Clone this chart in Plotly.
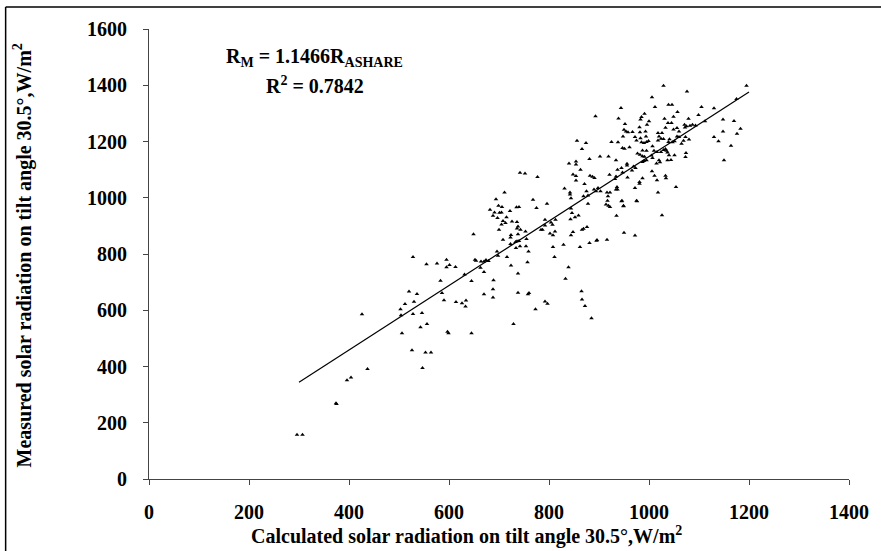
import plotly.graph_objects as go

# Calculated (ASHRAE) vs measured solar radiation, W/m^2
calc = [296, 307, 374, 375, 396, 404, 437, 506, 526, 553, 564, 547, 597, 599, 645,
        528, 555, 576, 595, 601, 595, 613, 652, 631, 583, 645, 520, 536, 586, 512, 530,
        590, 614, 626, 634, 633, 503, 546, 528, 504, 426, 556, 543,
        724, 723, 738, 753, 700, 743, 784, 787, 812, 802, 808, 844, 848, 866,
        708, 736, 733, 740, 755, 723, 734, 742, 754, 759, 696, 698, 716,
        654, 664, 670, 674, 679, 663, 724, 757, 670, 738, 689, 688, 670, 688, 738,
        758, 760, 792, 797, 773, 729, 808, 811, 829, 862, 839, 833, 881, 895, 896,
        916, 950, 972, 865, 866, 872, 885,
        945, 976, 949, 935, 1026,
        856, 874, 925, 866, 902, 919, 881, 840, 854, 854, 863, 742, 752, 777, 848, 854,
        882, 887, 891, 921, 854, 871, 831, 898, 890, 894, 903, 875, 842, 842, 916, 922,
        711, 869, 878, 844, 918, 917, 914, 919, 922, 878, 694, 699, 706, 682, 691, 688,
        697, 701, 705, 722, 735, 740, 768, 775, 796, 715, 708, 713, 705, 726, 736, 738,
        736, 649, 792, 792, 804, 807, 813, 844, 846, 852, 843, 859, 869, 876, 893,
        1029, 1076, 1195, 1006, 1039, 1046, 1012, 944, 1105, 1130, 1175, 991, 985, 983,
        1057, 1099, 939, 1031, 1049, 1079, 1000, 996, 952, 1038, 1045, 1071, 1075, 1082,
        1087, 1072, 1148, 1170, 1093, 1112, 981, 1033, 1049, 950, 954, 958, 967, 982, 993,
        1018, 1026, 1056, 1060, 1183, 1148, 1176, 1130, 1139, 1164, 1150, 938, 947, 951,
        961, 948, 972, 983, 975, 994, 985, 990, 995, 999, 1007, 1010, 1018, 1020, 1024,
        1029, 1039, 1041, 1047, 1051, 1056, 1060, 1065, 1069, 1073, 1080, 977, 982, 987,
        991, 987, 995, 1005, 1016, 1024, 1029, 1033, 1035, 1037, 1040, 1051, 1044, 1037,
        1020, 1022, 1015, 1007, 995, 987, 990, 1074, 1073, 934, 937, 945, 947, 956, 956,
        966, 969, 973, 957, 934, 932, 987, 981, 981, 972, 1006, 1011, 1016, 1033, 1034,
        1054, 1018, 936, 937, 934, 946, 975, 949]
meas = [157, 157, 269, 267, 351, 361, 391, 518, 458, 450, 450, 395, 524, 518, 518,
        789, 764, 766, 780, 761, 753, 754, 780, 727, 705, 704, 667, 658, 661, 622, 630,
        636, 629, 625, 635, 613, 604, 590, 587, 582, 586, 551, 540,
        868, 859, 870, 880, 886, 886, 886, 886, 880, 873, 867, 867, 878, 886,
        851, 845, 843, 846, 853, 836, 821, 828, 828, 809, 809, 794, 789,
        776, 773, 773, 779, 775, 751, 759, 771, 736, 731, 707, 675, 657, 645, 662,
        657, 661, 631, 623, 604, 551, 825, 789, 833, 825, 753, 712, 839, 847, 850,
        851, 876, 866, 668, 638, 615, 572,
        988, 988, 970, 936, 938,
        1203, 1195, 1198, 1173, 1147, 1147, 1138, 1122, 1129, 1118, 1100, 1089, 1086, 1074, 1083, 1077,
        1078, 1075, 1070, 1082, 1061, 1049, 1033, 1035, 1029, 1023, 1023, 1023, 1019, 1012, 1019, 1019,
        1019, 1005, 1008, 998, 1005, 989, 976, 972, 967, 979, 995, 972, 967, 957, 948, 936,
        928, 947, 948, 953, 966, 967, 993, 964, 979, 931, 917, 910, 905, 916, 914, 898,
        891, 870, 922, 901, 912, 904, 922, 962, 946, 931, 924, 937, 890, 896, 1290,
        1398, 1378, 1398, 1357, 1331, 1331, 1323, 1319, 1323, 1318, 1351, 1299, 1287, 1278,
        1305, 1294, 1282, 1281, 1288, 1281, 1272, 1260, 1262, 1266, 1266, 1260, 1254, 1256,
        1260, 1250, 1278, 1273, 1257, 1272, 1251, 1249, 1243, 1242, 1236, 1233, 1234, 1233, 1236,
        1230, 1230, 1248, 1236, 1245, 1236, 1228, 1216, 1201, 1185, 1133, 1197, 1177, 1174,
        1180, 1218, 1216, 1212, 1204, 1218, 1197, 1195, 1198, 1202, 1183, 1167, 1204, 1218, 1210,
        1209, 1198, 1208, 1197, 1201, 1218, 1216, 1192, 1203, 1216, 1207, 1157, 1153, 1148,
        1146, 1168, 1167, 1150, 1163, 1163, 1170, 1173, 1167, 1161, 1151, 1151, 1134, 1133,
        1133, 1126, 1122, 1141, 1133, 1127, 1131, 1159, 1145, 1133, 1100, 1106, 1090, 1121, 1115,
        1097, 1111, 1106, 1072, 1076, 1067, 1069, 1056, 1050, 1035, 1094, 1078, 1062, 1078, 1069,
        1038, 1019, 1038, 1029, 1029, 989, 989, 972]

slope = 1.1466
r2 = 0.7842
trend_x = [300, 1200]
trend_y = [slope * v for v in trend_x]

x_ticks = [0, 200, 400, 600, 800, 1000, 1200, 1400]
y_ticks = [0, 200, 400, 600, 800, 1000, 1200, 1400, 1600]

font_family = "Liberation Serif"
FS = 20

# page geometry (pixels)
w, h = 881, 551
pl, pr, pt, pb = 149, 24, 29, 72
pw, ph = w - pl - pr, h - pt - pb
def px_to_paper_x(px):
    return (px - pl) / pw
def py_to_paper_y(py):
    return (h - pb - py) / ph

fig = go.Figure()
fig.add_trace(go.Scatter(x=calc, y=meas, mode="markers",
                         marker=dict(symbol="triangle-up", size=4, color="black",
                                     line=dict(width=0)),
                         showlegend=False, hoverinfo="x+y"))
fig.add_trace(go.Scatter(x=trend_x, y=trend_y, mode="lines",
                         line=dict(color="black", width=1.2),
                         showlegend=False, hoverinfo="skip"))

axis_common = dict(showgrid=False, zeroline=False, showline=True, linecolor="#444",
                   linewidth=1.2, ticks="outside", ticklen=5, tickcolor="#444",
                   tickfont=dict(family=font_family, size=FS, color="black", weight="bold"))

fig.update_xaxes(range=[0, 1400], tickvals=x_ticks, ticktext=[str(v) for v in x_ticks],
                 ticklabelstandoff=10, **axis_common)
fig.update_yaxes(range=[0, 1600], tickvals=y_ticks, ticktext=[str(v) for v in y_ticks],
                 ticklabelstandoff=12, **axis_common)

fig.update_layout(
    width=w, height=h,
    margin=dict(l=pl, r=pr, t=pt, b=pb),
    plot_bgcolor="white", paper_bgcolor="white",
    font=dict(family=font_family, color="black"),
    annotations=[
        dict(text="<b>R<sub>M</sub> = 1.1466R<sub>ASHARE</sub></b>", x=330, y=1500,
             xref="x", yref="y", showarrow=False, xanchor="center", yanchor="middle",
             font=dict(family=font_family, size=FS)),
        dict(text="<b>R<sup>2</sup> = 0.%s</b>" % str(r2).split(".")[1], x=332, y=1400,
             xref="x", yref="y", showarrow=False, xanchor="center", yanchor="middle",
             font=dict(family=font_family, size=FS)),
        dict(text="<b>Calculated solar radiation on tilt angle 30.5°,W/m<sup>2</sup></b>",
             x=px_to_paper_x(470), y=py_to_paper_y(535), xref="paper", yref="paper",
             showarrow=False, xanchor="center", yanchor="middle",
             font=dict(family=font_family, size=FS)),
        dict(text="<b>Measured solar radiation on tilt angle 30.5°,W/m<sup>2</sup></b>",
             x=px_to_paper_x(21), y=py_to_paper_y(255), xref="paper", yref="paper",
             textangle=-90, showarrow=False, xanchor="center", yanchor="middle",
             font=dict(family=font_family, size=FS)),
    ],
    shapes=[
        dict(type="line", xref="paper", yref="paper",
             x0=px_to_paper_x(4), x1=px_to_paper_x(900),
             y0=py_to_paper_y(7), y1=py_to_paper_y(7), line=dict(color="black", width=1.5)),
        dict(type="line", xref="paper", yref="paper",
             x0=px_to_paper_x(4), x1=px_to_paper_x(4),
             y0=py_to_paper_y(600), y1=py_to_paper_y(7), line=dict(color="black", width=1.5)),
    ],
)

fig.write_html("out.html")
